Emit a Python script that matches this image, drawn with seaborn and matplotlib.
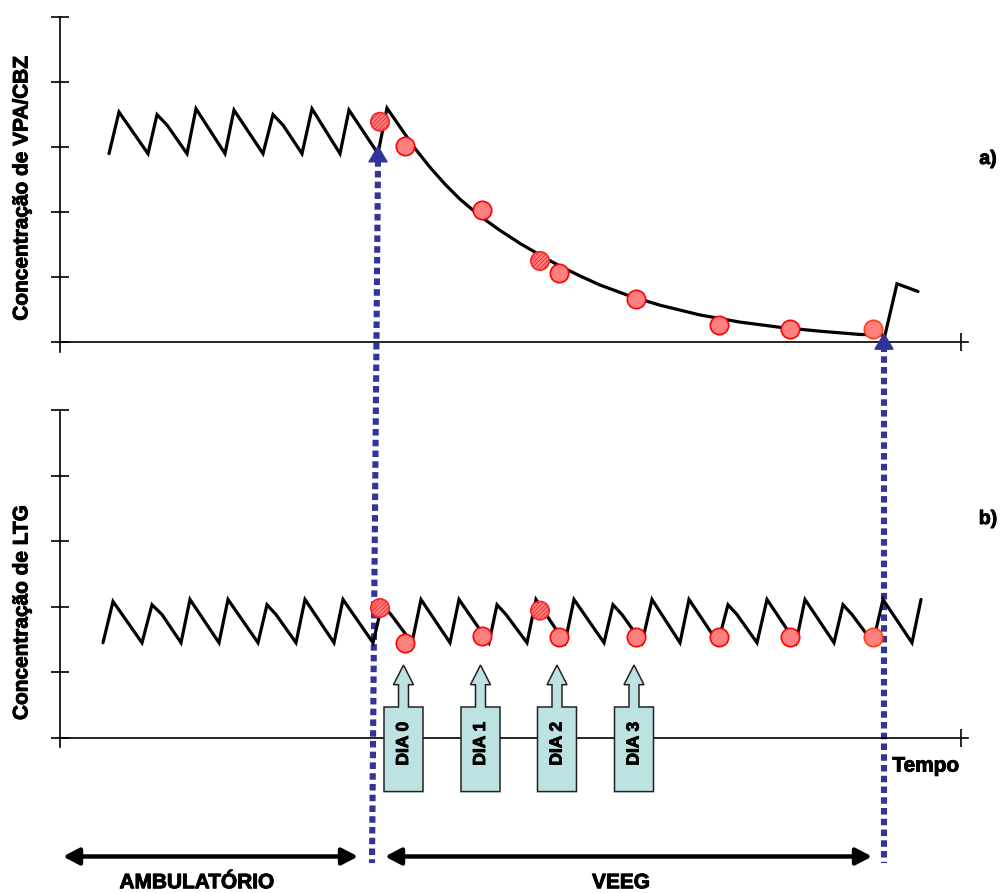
import matplotlib
matplotlib.use("Agg")
import matplotlib.pyplot as plt
import matplotlib.patheffects as pe
import seaborn as sns
from matplotlib.patches import ConnectionPatch, Polygon

# ---- dados (tempo em unidades arbitrarias, concentracao em unidades do eixo) ----
# a) VPA/CBZ: regime ambulatorial em dente de serra, depois decaimento e reintroducao
vpa_t = [4.9, 5.9, 8.8, 9.7, 10.7, 12.7, 13.6, 16.5, 17.4, 20.3, 21.3, 22.3,
         24.2, 25.2, 28.0, 28.9, 31.8,
         32.7, 34.0, 35.5, 37.0, 38.5, 40.0, 42.0, 44.0, 46.0, 48.0, 50.0,
         52.0, 54.0, 57.0, 60.0, 64.0, 68.0, 72.0, 76.0, 80.0, 82.5,
         83.7, 85.8]
vpa_c = [2.90, 3.54, 2.90, 3.50, 3.34, 2.90, 3.59, 2.90, 3.57, 2.90, 3.50, 3.34,
         2.90, 3.59, 2.90, 3.57, 2.90,
         3.60, 3.31, 2.98, 2.69, 2.43, 2.20, 1.94, 1.72, 1.52, 1.34, 1.17,
         1.02, 0.88, 0.71, 0.57, 0.42, 0.31, 0.23, 0.17, 0.12, 0.11,
         0.90, 0.78]

# b) LTG: dente de serra estavel durante todo o periodo
ltg_t = [4.3, 5.3, 8.2, 9.2, 10.2, 12.1, 13.0, 15.9, 16.8, 19.8, 20.7, 21.6,
         23.6, 24.5, 27.4, 28.3, 31.3, 32.2, 33.1, 35.2, 36.1, 39.0, 39.9,
         42.9, 43.7, 44.6, 46.7, 47.6, 50.5, 51.4, 54.4, 55.3, 56.2, 58.2,
         59.2, 62.0, 62.9, 65.8, 66.8, 67.7, 69.7, 70.7, 73.6, 74.5, 77.4,
         78.3, 79.2, 81.3, 82.3, 85.2, 86.1]
ltg_c = [1.45, 2.08, 1.45, 2.03, 1.88, 1.45, 2.11, 1.45, 2.11, 1.45, 2.03, 1.88,
         1.45, 2.11, 1.45, 2.11, 1.45, 2.03, 1.88, 1.45, 2.11, 1.45, 2.11,
         1.45, 2.03, 1.88, 1.45, 2.11, 1.45, 2.11, 1.45, 2.03, 1.88, 1.45,
         2.11, 1.45, 2.11, 1.45, 2.03, 1.88, 1.45, 2.11, 1.45, 2.11, 1.45,
         2.03, 1.88, 1.45, 2.11, 1.45, 2.11]

# coletas de sangue
sample_t = [32.0, 34.5, 42.2, 48.0, 49.9, 57.6, 65.9, 73.0, 81.3]
sample_vpa = [3.39, 3.01, 2.03, 1.25, 1.07, 0.67, 0.27, 0.21, 0.20]
sample_ltg = [1.98, 1.45, 1.56, 1.94, 1.54, 1.54, 1.54, 1.54, 1.54]
hatched = [True, False, False, True, False, False, False, False, False]

# dias do VEEG
dia_labels = ["DIA 0", "DIA 1", "DIA 2", "DIA 3"]
dia_t = [34.35, 42.05, 49.7, 57.4]

# inicio e fim do VEEG
veeg_start = (31.8, 31.2)   # (topo, base) - linha levemente inclinada
veeg_end = 82.4

sns.set_style("white")
plt.rcParams["font.family"] = ["Liberation Sans", "DejaVu Sans"]
plt.rcParams["text.color"] = "black"
plt.rcParams["hatch.linewidth"] = 0.6

fig = plt.figure(figsize=(10, 8.93), dpi=100)
ax_top = fig.add_axes([0.06, 0.6058, 0.908, 0.3751])
ax_bot = fig.add_axes([0.06, 0.1635, 0.908, 0.3774])
ax_bot.set_zorder(1)


def style_axis(ax, ymin):
    ax.set_xlim(0, 90.8)
    ax.set_ylim(ymin, 5)
    ax.set_facecolor("none")
    for s in ["top", "right"]:
        ax.spines[s].set_visible(False)
    for s in ["left", "bottom"]:
        ax.spines[s].set_color("black")
        ax.spines[s].set_linewidth(1.2)
    ax.spines["bottom"].set_position(("data", 0))
    ax.set_yticks(range(6))
    ax.set_xticks([90.1])
    ax.tick_params(direction="inout", length=13, width=1.2, color="black",
                   left=True, bottom=True, labelleft=False, labelbottom=False)


style_axis(ax_top, -0.15)
style_axis(ax_bot, -0.14)

line_kw = dict(color="black", lw=2.3, sort=False, estimator=None,
               solid_joinstyle="miter", zorder=3)
sns.lineplot(x=vpa_t, y=vpa_c, ax=ax_top, **line_kw)
sns.lineplot(x=ltg_t, y=ltg_c, ax=ax_bot, **line_kw)


def draw_samples(ax, values):
    plain_t = [t for t, h in zip(sample_t, hatched) if not h]
    plain_v = [v for v, h in zip(values, hatched) if not h]
    hat_t = [t for t, h in zip(sample_t, hatched) if h]
    hat_v = [v for v, h in zip(values, hatched) if h]
    sns.scatterplot(x=plain_t[:-1], y=plain_v[:-1], ax=ax, s=175, color="#ff8080",
                    edgecolor="#ff0000", linewidth=1.2, zorder=5)
    sns.scatterplot(x=plain_t[-1:], y=plain_v[-1:], ax=ax, s=175, color="#ff8080",
                    edgecolor="#ff4010", linewidth=1.2, zorder=5)
    sns.scatterplot(x=hat_t, y=hat_v, ax=ax, s=175, color="#ff8080",
                    edgecolor="#ff2020", linewidth=1.2, hatch="////////", zorder=5)


draw_samples(ax_top, sample_vpa)
draw_samples(ax_bot, sample_ltg)

# linhas tracejadas azuis (inicio / fim do VEEG)
blue = "#333399"
for top_xy, bot_xy in [((veeg_start[0], 2.80), (veeg_start[1], -1.91)),
                       ((veeg_end, -0.05), (veeg_end, -1.91))]:
    con = ConnectionPatch(xyA=top_xy, coordsA="data", axesA=ax_top,
                          xyB=bot_xy, coordsB="data", axesB=ax_bot,
                          color=blue, lw=4.4, capstyle="butt")
    con.set_linestyle((0, (1.07, 0.69)))
    con.set_annotation_clip(False)
    con.set_zorder(0.5)
    fig.add_artist(con)

head_kw = dict(arrowstyle="-|>,head_length=1.1,head_width=0.65", color=blue,
               lw=1, shrinkA=0, shrinkB=0)
ax_top.annotate("", xy=(veeg_start[0], 3.03), xytext=(veeg_start[0], 2.80),
                arrowprops=head_kw, annotation_clip=False, zorder=4)
ax_top.annotate("", xy=(veeg_end, 0.15), xytext=(veeg_end, -0.05),
                arrowprops=head_kw, annotation_clip=False, zorder=4)

bold = [pe.withStroke(linewidth=0.7, foreground="black")]

# caixas "DIA n" com seta para cima
for lab, t0 in zip(dia_labels, dia_t):
    shape = [(t0 - 1.95, -0.82), (t0 + 1.95, -0.82), (t0 + 1.95, 0.47),
             (t0 + 0.5, 0.47), (t0 + 0.5, 0.81), (t0 + 1.0, 0.81),
             (t0, 1.11), (t0 - 1.0, 0.81), (t0 - 0.5, 0.81), (t0 - 0.5, 0.47),
             (t0 - 1.95, 0.47)]
    ax_bot.add_patch(Polygon(shape, closed=True, facecolor="#bde2e2",
                             edgecolor="#222222", lw=1.1, zorder=3,
                             clip_on=False, joinstyle="miter"))
    ax_bot.text(t0, -0.09, lab, rotation=90, ha="center", va="center",
                fontsize=12.5, fontweight="bold", zorder=4, path_effects=bold)

# setas duplas de periodo
arr_kw = dict(arrowstyle="<|-|>,head_length=0.95,head_width=0.5", color="black",
              lw=3.2, shrinkA=0, shrinkB=0)
ax_bot.annotate("", xy=(0.3, -1.81), xytext=(29.8, -1.81), arrowprops=arr_kw,
                annotation_clip=False)
ax_bot.annotate("", xy=(32.5, -1.81), xytext=(81.2, -1.81), arrowprops=arr_kw,
                annotation_clip=False)

txt_kw = dict(ha="center", va="center", fontweight="bold", clip_on=False,
              path_effects=bold)
ax_bot.text(13.7, -2.21, "AMBULATÓRIO", fontsize=15, **txt_kw)
ax_bot.text(56.1, -2.21, "VEEG", fontsize=15, **txt_kw)
ax_bot.text(86.6, -0.43, "Tempo", fontsize=15, **txt_kw)
ax_top.text(92.8, 2.81, "a)", fontsize=14, **txt_kw)
ax_bot.text(92.8, 3.33, "b)", fontsize=14, **txt_kw)

ax_top.text(-0.042, 0.49, "Concentração de VPA/CBZ", rotation=90,
            transform=ax_top.transAxes, fontsize=15, **txt_kw)
ax_bot.text(-0.042, 0.40, "Concentração de LTG", rotation=90,
            transform=ax_bot.transAxes, fontsize=15, **txt_kw)

fig.savefig("out.png", dpi=100, facecolor="white")
